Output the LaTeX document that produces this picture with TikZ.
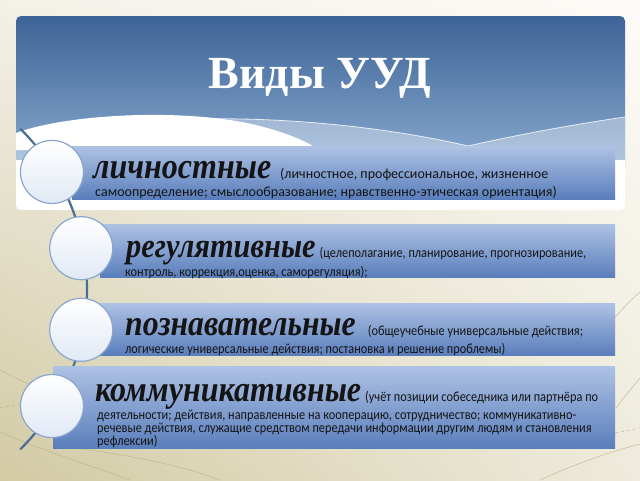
\documentclass[tikz,border=0pt]{standalone}
\usepackage{fontspec}
\usepackage{graphicx}
\setmainfont{Liberation Serif}
\newfontfamily\notefont{Carlito}
\newfontfamily\narrowfont[FakeStretch=0.88]{Carlito}
\usetikzlibrary{positioning,shadings}
\definecolor{paneltop}{HTML}{3D6497}
\definecolor{panelbot}{HTML}{88A8CE}
\definecolor{bartop}{HTML}{AEC2E4}
\definecolor{barbot}{HTML}{5A7EBC}
\definecolor{ringline}{HTML}{8AA6CF}
\definecolor{ringbot}{HTML}{E1E9F5}
\definecolor{arcline}{HTML}{4B6C93}
\definecolor{decoline}{HTML}{B9AF85}
\definecolor{bgul}{HTML}{F3F1E8}
\definecolor{bgur}{HTML}{FCFBF7}
\definecolor{bgll}{HTML}{D2CAA4}
\definecolor{bglr}{HTML}{EEEBDC}
\newcommand{\kind}[2]% size, word
{\scalebox{1}[1.14]{\rmfamily\fontsize{#1}{#1}\selectfont\bfseries\itshape #2}}
\newcommand{\widenote}{\notefont\fontsize{14}{14}\selectfont}
\newcommand{\narrownote}{\narrowfont\fontsize{14}{14}\selectfont}
\tikzset{
  bar/.style={anchor=north west, inner sep=0pt, top color=bartop, bottom color=barbot},
  ring/.style={circle, draw=ringline, line width=1.2pt, minimum size=63pt, inner sep=0pt,
    top color=white, bottom color=ringbot},
  note/.style={anchor=base west, inner sep=0pt, text=black!92, font=\narrownote},
  deco/.style={decoline, line width=.6pt, opacity=.7},
}

\begin{document}
\begin{tikzpicture}[x=1pt,y=-1pt]
	\useasboundingbox (0,0) rectangle (640,480);
	\shade[upper left=bgul, upper right=bgur, lower left=bgll, lower right=bglr] (0,0) rectangle (640,480);
	% background strokes
	\draw[deco] (0,370) .. controls (20,380) and (40,390) .. (60,398);
	\draw[deco, dashed] (0,408) .. controls (20,404) and (40,400) .. (60,396);
	\draw[deco] (0,432) .. controls (40,450) and (90,465) .. (130,480);
	\draw[deco] (67,447) .. controls (130,455) and (180,465) .. (220,480);
	\draw[deco] (640,292) .. controls (625,305) and (612,320) .. (604,332);
	\draw[deco] (640,378) .. controls (630,390) and (622,400) .. (616,408);
	\draw[deco, dashed] (615,433) -- (640,428);
	\draw[deco] (540,480) .. controls (580,462) and (610,452) .. (640,444);
	% title panel
	\begin{scope}
		\clip[rounded corners=5] (16,16) rectangle (625,210);
		\fill[white] (16,16) rectangle (625,210);
		\shade[top color=paneltop, bottom color=panelbot] (16,16) rectangle (625,165);
		\fill[white, opacity=.35] (200,119) .. controls (300,117) and (400,130) .. (468,146)
		  .. controls (530,132) and (590,122) .. (625,117) -- (625,210) -- (16,210) -- (16,150) -- cycle;
		\draw[white, line width=.8pt, opacity=.8] (200,119) .. controls (300,117) and (400,130) .. (468,146)
		  .. controls (530,132) and (590,122) .. (625,117);
		\fill[white] (16,133) .. controls (70,113) and (190,108) .. (260,126)
		  .. controls (290,134) and (305,141) .. (320,150) -- (16,150) -- cycle;
		\fill[white] (16,160) rectangle (625,210);
	\end{scope}
	\node[anchor=base, text=white, font=\fontsize{46}{46}\selectfont\bfseries] (head) at (320,88) {Виды УУД};
	% the arc through the rings
	\coordinate (top) at ([shift={(-45.2:226)}]-139,289);
	\draw[arcline, line width=2.2pt] (top) arc[start angle=-45.2, end angle=45.2, radius=226];
	% bars
	\node[bar, minimum width=543pt, minimum height=53pt] (b1) at (72,146) {};
	\node[bar, minimum width=515pt, minimum height=53pt] (b2) at (100,224) {};
	\node[bar, minimum width=515pt, minimum height=52pt] (b3) at (100,303) {};
	\node[bar, minimum width=562pt, minimum height=82pt] (b4) at (53,366) {};
	% rings
	\foreach \a [count=\i] in {-31.5,-10.5,10.5,31.5}
		\node[ring] (r\i) at ([shift={(\a:224)}]-139,289) {};
	% texts
	\node[note, font=\widenote] (t1a) at (93,178) {\kind{32}{личностные}\hspace{9pt}(личностное, профессиональное, жизненное};
	\node[note, font=\widenote] (t1b) at (95,196) {самоопределение; смыслообразование; нравственно-этическая ориентация)};
	\node[note] (t2a) at (126,257) {\kind{30.4}{регулятивные}\hspace{4pt}(целеполагание, планирование, прогнозирование,};
	\node[note] (t2b) at (125,276) {контроль, коррекция,оценка, саморегуляция);};
	\node[note] (t3a) at (125,335) {\kind{31.7}{познавательные}\hspace{12pt}(общеучебные универсальные действия;};
	\node[note] (t3b) at (125,353) {логические универсальные действия; постановка и решение проблемы)};
	\node[note] (t4a) at (95,401) {\kind{32}{коммуникативные}\hspace{4pt}(учёт позиции собеседника или партнёра по};
	\node[note] (t4b) at (97,419) {деятельности; действия, направленные на кооперацию, сотрудничество; коммуникативно-};
	\node[note] (t4c) at (97,432) {речевые действия, служащие средством передачи информации другим людям и становления};
	\node[note] (t4d) at (97,445) {рефлексии)};
\end{tikzpicture}
\end{document}
